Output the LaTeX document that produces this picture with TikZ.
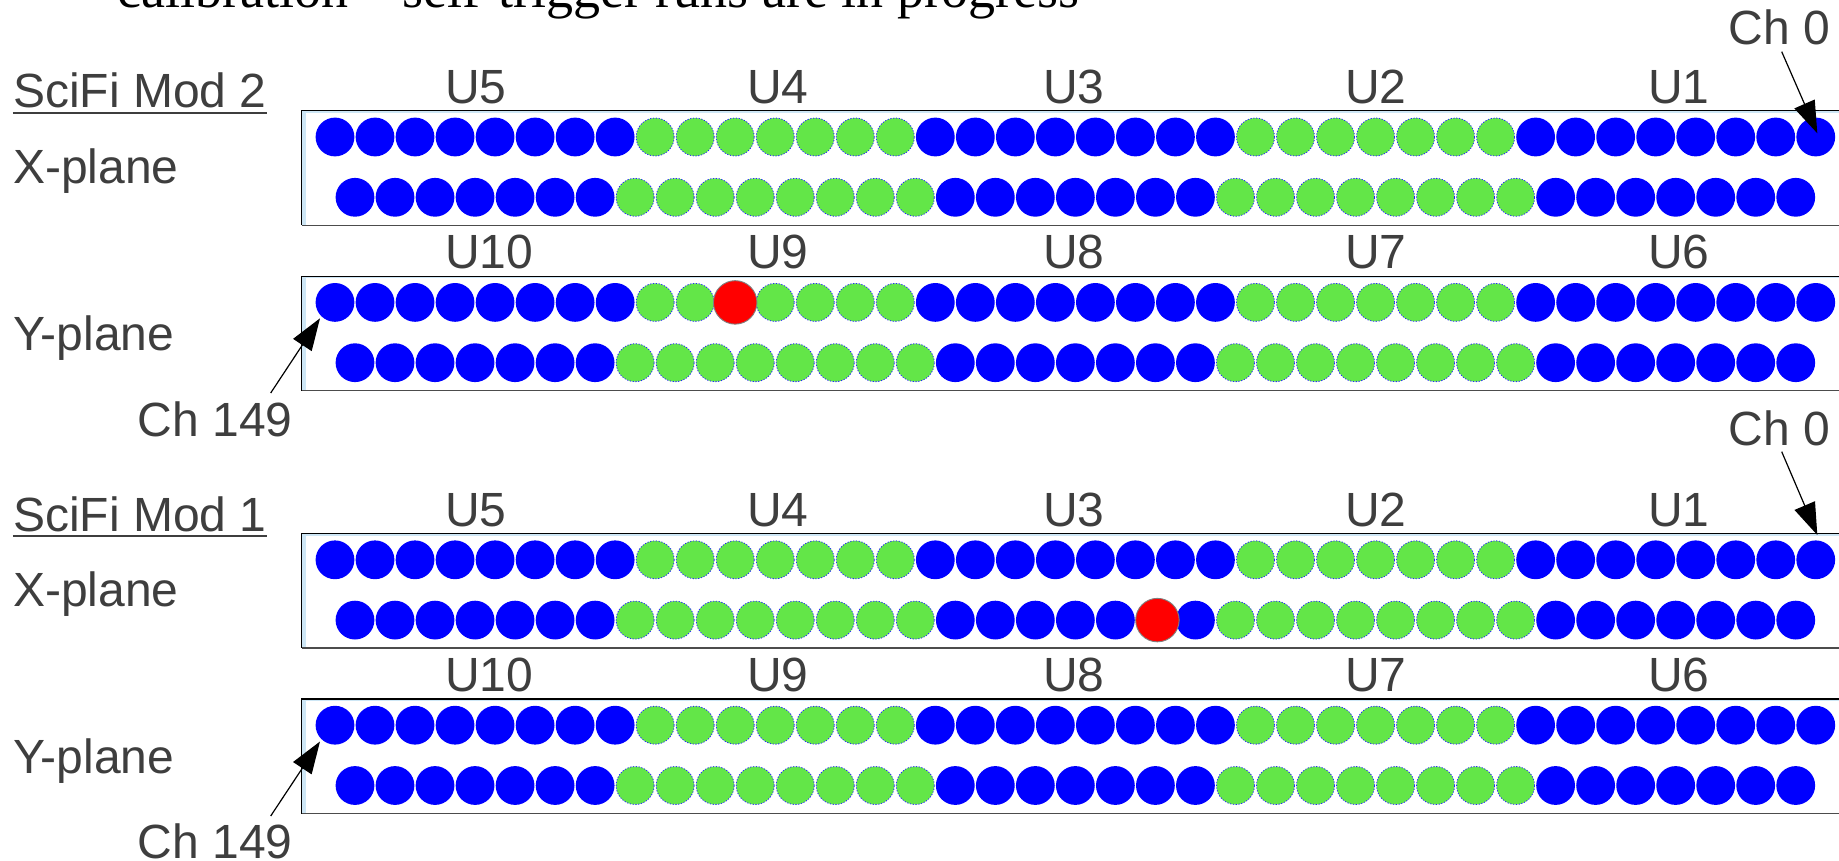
\documentclass[tikz,border=0pt]{standalone}
\usepackage{fontspec}
\setmainfont{Liberation Sans}
\newfontfamily\serifm{Liberation Serif}
\usetikzlibrary{arrows.meta}
\definecolor{txt}{RGB}{62,62,62}
\definecolor{fibblue}{RGB}{0,0,255}
\definecolor{fibgreen}{RGB}{99,230,72}
\definecolor{fibred}{RGB}{255,0,0}
\definecolor{edgeblue}{RGB}{205,230,245}
\tikzset{
  lab/.style={font=\fontsize{48}{57}\selectfont, text=txt, inner sep=0pt, anchor=base west},
  bluefib/.style={circle, fill=fibblue, minimum size=38.8pt, inner sep=0pt},
  greenfib/.style={circle, fill=fibgreen, draw=fibblue!85, dash pattern=on 1.2pt off 1.6pt, line width=0.8pt, minimum size=38pt, inner sep=0pt},
  hitfib/.style={circle, fill=fibred, draw=gray, line width=0.9pt, minimum size=43.5pt, inner sep=0pt},
  arr/.style={-{Triangle[length=32pt,width=22pt]}, line width=1.2pt, black},
}
% #1 name prefix, #2 top of box
\newcommand\fibplane[2]{%
  \fill[white] (301.7,#2) rectangle (1845,#2+114.6);
  \fill[edgeblue] (302.3,#2+0.6) rectangle (305.5,#2+114);
  \fill[edgeblue] (302.3,#2+0.6) rectangle (1845,#2+2.2);
  \draw[black, line width=1.2pt] (1845,#2) -- (301.7,#2) -- (301.7,#2+114.6);
  \draw[black!70, line width=1.3pt] (301.7,#2+114.6) -- (1845,#2+114.6);
  \foreach \i in {0,...,37}{%
    \ifnum\i<8 \def\st{bluefib}\else\ifnum\i<15 \def\st{greenfib}\else\ifnum\i<23 \def\st{bluefib}\else\ifnum\i<30 \def\st{greenfib}\else\def\st{bluefib}\fi\fi\fi\fi
    \tikzset{curfib/.style/.expanded={\st}}
    \node[curfib] (#1a\i) at ({335+40.02*\i},#2+26.3) {};
  }
  \foreach \i in {0,...,36}{%
    \ifnum\i<7 \def\st{bluefib}\else\ifnum\i<15 \def\st{greenfib}\else\ifnum\i<22 \def\st{bluefib}\else\ifnum\i<30 \def\st{greenfib}\else\def\st{bluefib}\fi\fi\fi\fi
    \tikzset{curfib/.style/.expanded={\st}}
    \node[curfib] (#1b\i) at ({355+40.02*\i},#2+86.6) {};
  }
}
% #1 top of box, #2..#6 labels
\newcommand\ulabels[6]{%
  \node[lab] at (445,#1-7.4) {#2};
  \node[lab] at (747,#1-7.4) {#3};
  \node[lab] at (1043,#1-7.4) {#4};
  \node[lab] at (1345,#1-7.4) {#5};
  \node[lab] at (1648,#1-7.4) {#6};
}
\begin{document}
\begin{tikzpicture}[x=1pt,y=-1pt]
\useasboundingbox (0,0) rectangle (1839,861);
\fill[white] (0,0) rectangle (1839,861);
% title (cut off at top)
\node[anchor=base west, inner sep=0pt, font=\serifm\fontsize{54}{60}\selectfont] (title) at (117,8) {calibration – self-trigger runs are in progress};

% ---------- Module 2 ----------
\fibplane{mtx}{110.7}
\fibplane{mty}{276.1}
\ulabels{110.7}{U5}{U4}{U3}{U2}{U1}
\ulabels{276.1}{U10}{U9}{U8}{U7}{U6}
\node[hitfib] (hittwo) at (mtya10) {};
\node[lab] (modtwo) at (12.9,108) {SciFi Mod 2};
\draw[txt, line width=2.4pt] ([yshift=-5pt]modtwo.base west) -- ([yshift=-5pt]modtwo.base east);
\node[lab] (mtxl) at (12.9,183.3) {X-plane};
\node[lab] (mtyl) at (12.9,350) {Y-plane};
\node[lab] (chzerotwo) at (1728.5,45) {Ch 0};
\node[lab] (chlasttwo) at (137.5,436.7) {Ch 149};
\coordinate (tipzerotwo) at (1817.3,133.3);
\coordinate (tiplasttwo) at (320,318.3);
\draw[arr] ([xshift=53.2pt,yshift=-6.7pt]chzerotwo.base west) -- (tipzerotwo);
\draw[arr] ([xshift=133.2pt,yshift=43.7pt]chlasttwo.base west) -- (tiplasttwo);

% ---------- Module 1 ----------
\fibplane{mox}{533.5}
\fibplane{moy}{698.9}
\ulabels{533.5}{U5}{U4}{U3}{U2}{U1}
\ulabels{698.9}{U10}{U9}{U8}{U7}{U6}
\node[hitfib] (hitone) at ([xshift=2pt]moxb20) {};
\node[lab] (modone) at (12.9,531) {SciFi Mod 1};
\draw[txt, line width=2.4pt] ([yshift=-5pt]modone.base west) -- ([yshift=-5pt]modone.base east);
\node[lab] (moxl) at (12.9,606.3) {X-plane};
\node[lab] (moyl) at (12.9,773) {Y-plane};
\node[lab] (chzeroone) at (1728.5,445) {Ch 0};
\node[lab] (chlastone) at (137.5,858.5) {Ch 149};
\coordinate (tipzeroone) at (1817.3,535);
\coordinate (tiplastone) at (320,741.5);
\draw[arr] ([xshift=53.2pt,yshift=-6.7pt]chzeroone.base west) -- (tipzeroone);
\draw[arr] ([xshift=133.2pt,yshift=42.5pt]chlastone.base west) -- (tiplastone);
\end{tikzpicture}
\end{document}
